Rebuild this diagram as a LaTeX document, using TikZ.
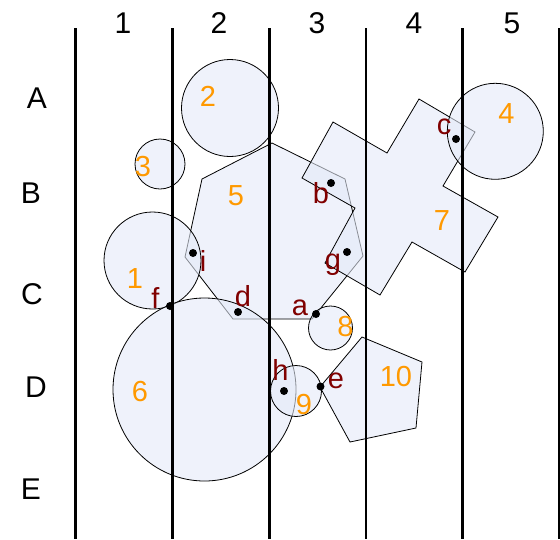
\documentclass[tikz,border=0pt]{standalone}
\usepackage{fontspec}
\setmainfont{Liberation Sans}
\definecolor{shapefill}{RGB}{228,234,248}
\definecolor{numcol}{RGB}{255,153,0}
\definecolor{ptcol}{RGB}{128,0,0}

\begin{document}
\begin{tikzpicture}[x=1pt, y=-1pt,
            body/.style={draw=black, line width=0.8pt, fill=shapefill, fill opacity=0.6},
            gridline/.style={line width=2.4pt},
            gridlabel/.style={font=\fontsize{30}{30}\selectfont, anchor=base, inner sep=0pt},
            numlabel/.style={font=\fontsize{29}{29}\selectfont, text=numcol, anchor=base, inner sep=0pt},
            ptlabel/.style={font=\fontsize{29}{29}\selectfont, text=ptcol, anchor=base, inner sep=0pt},
            dot/.style={circle, fill=black, inner sep=0pt, minimum size=8pt}
        ]
            \useasboundingbox (0,0) rectangle (560,539);

            % Polygons
            \draw[body] (202,179) -- (272,143) -- (345,179) -- (363,256) -- (312,319) -- (233,319) -- (185,257) -- cycle;
            \draw[body] (333,122) -- (302,178) -- (355,208) -- (325,263) -- (380,295) -- (412,242) -- (465,272) -- (498,217) -- (443,186) -- (475,132) -- (419,99) -- (387,153) -- cycle;
            \draw[body] (362,337) -- (422,362) -- (416,428) -- (350,442) -- (320,387) -- cycle;

            % Circles
            \draw[body] (152.5,260.5) circle (48.5);
            \draw[body] (230,108) circle (48.5);
            \draw[body] (160,164) circle (25);
            \draw[body] (495.3,131.3) circle (48);
            \draw[body] (204.5,389.5) circle (91.5);
            \draw[body] (330.5,328) circle (22);
            \draw[body] (296,391) circle (25.5);

            % Grid
            \foreach \gx in {75.5,172.5,269.5,366,462.5,559}
                \draw[gridline] (\gx,28) -- (\gx,539);
            \node[gridlabel] (col1) at (123,33) {1};
            \node[gridlabel] (col2) at (219,33) {2};
            \node[gridlabel] (col3) at (317,33) {3};
            \node[gridlabel] (col4) at (414,33) {4};
            \node[gridlabel] (col5) at (512,33) {5};
            \node[gridlabel] (rowA) at (37,108) {A};
            \node[gridlabel] (rowB) at (31,203) {B};
            \node[gridlabel] (rowC) at (32,304) {C};
            \node[gridlabel] (rowD) at (36,397) {D};
            \node[gridlabel] (rowE) at (31,499) {E};

            % Shape numbers
            \node[numlabel] (n1) at (135,288) {1};
            \node[numlabel] (n2) at (208,106.5) {2};
            \node[numlabel] (n3) at (143,176) {3};
            \node[numlabel] (n4) at (506.5,123) {4};
            \node[numlabel] (n5) at (236,205) {5};
            \node[numlabel] (n6) at (140,401.5) {6};
            \node[numlabel] (n7) at (442,230.5) {7};
            \node[numlabel] (n8) at (345.5,336.5) {8};
            \node[numlabel] (n9) at (304,414) {9};
            \node[numlabel] (n10) at (396,386) {10};

            % Contact points
            \node[dot] (pa) at (316,314) {};
            \node[dot] (pb) at (331,183) {};
            \node[dot] (pc) at (456,139) {};
            \node[dot] (pd) at (238,312) {};
            \node[dot] (pe) at (320.5,386.5) {};
            \node[dot] (pf) at (170,306) {};
            \node[dot] (pg) at (347,252) {};
            \node[dot] (ph) at (284,391) {};
            \node[dot] (pi) at (193,253) {};
            \node[ptlabel] (la) at (300,315) {a};
            \node[ptlabel] (lb) at (321,203) {b};
            \node[ptlabel] (lc) at (444,134) {c};
            \node[ptlabel] (ld) at (243,306.5) {d};
            \node[ptlabel] (le) at (336,388) {e};
            \node[ptlabel] (lf) at (155.5,308) {f};
            \node[ptlabel] (lg) at (333,269) {g};
            \node[ptlabel] (lh) at (280.5,380.5) {h};
            \node[ptlabel] (li) at (203,271.5) {i};
        \end{tikzpicture}
\end{document}
